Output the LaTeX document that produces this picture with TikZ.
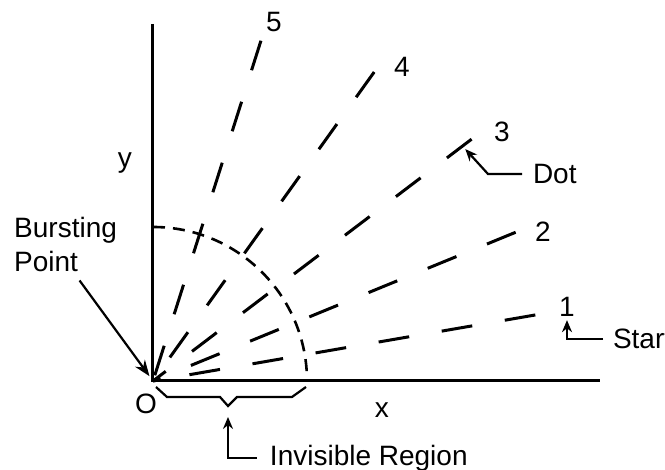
\documentclass[tikz,border=0pt]{standalone}
\usepackage{fontspec}
\setmainfont{Liberation Sans}
\usetikzlibrary{arrows.meta}
\tikzset{
  axis line/.style={line width=3pt},
  ray line/.style={line width=3pt, dash pattern=on 31pt off 33pt},
  edge arc/.style={line width=2.6pt, dash pattern=on 12pt off 8pt},
  label text/.style={font=\fontsize{28}{34}\selectfont},
  pointer/.style={->, >={Stealth[length=12pt,width=10pt]}, line width=2.2pt},
}

\begin{document}
\begin{tikzpicture}[x=1pt, y=1pt]
    \useasboundingbox (-153,-89) rectangle (512,381);
    \coordinate (O) at (0,0);

    % Axes
    \draw[axis line] (0,357) -- (O) -- (447,0);

    % Dashed rays from the bursting point, numbered at their ends
    \foreach \n/\ang/\len/\lx/\ly in {1/9.8/388/414/74, 2/22.3/392/390/149,
        3/37.2/400/349/249, 4/54.4/380/249/314, 5/72.4/357/121/359} {
      \draw[ray line] (\ang:\len) coordinate (r\n) -- (O);
      \node[label text] (n\n) at (\lx,\ly) {\n};
    }

    % Border of the invisible region
    \draw[edge arc] (0,154) arc[start angle=90, end angle=0, radius=154];

    % Axis labels
    \node[label text] (o) at (-7,-23) {O};
    \node[label text] (xl) at (229,-29) {x};
    \node[label text] (yl) at (-28,218) {y};

    % Callouts
    \node[label text, align=left, anchor=west, inner sep=0] (bp) at (-139,137) {Bursting\\Point};
    \node[label text, anchor=west, inner sep=0, outer xsep=11pt] (dot) at (369,207) {Dot};
    \node[label text, anchor=west, inner sep=0, outer xsep=10pt] (start) at (450,42) {Start};
    \node[label text, anchor=west, inner sep=0, outer xsep=13pt] (inv) at (104,-77) {Invisible Region};

    \draw[pointer, >={Stealth[length=16pt,width=12pt]}, shorten >=6pt]
      ([xshift=14pt,yshift=-9pt]bp.south) -- (O);

    \coordinate (dottip) at (36.6:389);
    \draw[pointer] (dot.west) -- ++(-34,0) -- (dottip);
    \draw[pointer] (start.west) -| (n1.south);

    % Brace under the x axis
    \draw[line width=2.2pt] (3,-6) -- (14,-16) -- (67,-16) -- (75,-25)
      -- (84,-16) -- (139,-16) -- (153,-6);
    \coordinate (bracetip) at (75,-36);
    \draw[pointer] (inv.west) -| (bracetip);
\end{tikzpicture}
\end{document}
